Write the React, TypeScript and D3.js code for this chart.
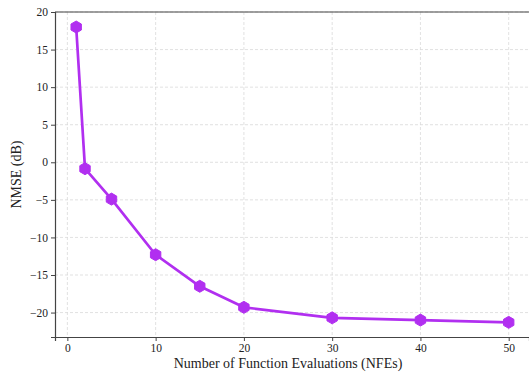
import { useEffect, useRef } from 'react';
import * as d3 from 'd3';

const nfes = [1, 2, 5, 10, 15, 20, 30, 40, 50];
const nmse = [18.0, -0.85, -4.9, -12.3, -16.5, -19.3, -20.7, -21.0, -21.3];
const xTicks = [0, 10, 20, 30, 40, 50];
const yTicks = [-20, -15, -10, -5, 0, 5, 10, 15, 20];

const COLOR = '#b12ff0';
const FONT = "'Times New Roman', 'Liberation Serif', Times, serif";

export default function App() {
    const svgRef = useRef<SVGSVGElement>(null);

    useEffect(() => {
        if (!svgRef.current) return;
        const width = 529;
        const height = 372;
        const svg = d3.select(svgRef.current);
        svg.selectAll('*').remove();

        const left = 55, right = 529, top = 12, bottom = 337;

        const x = d3.scaleLinear().domain([-1.4, 52.3]).range([left, right]);
        const y = d3.scaleLinear().domain([-23.25, 20]).range([bottom, top]);

        svg.attr('width', width).attr('height', height).style('font-family', FONT);

        // Grid
        const grid = svg.append('g');
        grid.selectAll('.gx')
            .data(xTicks)
            .enter()
            .append('line')
            .attr('x1', (d) => x(d))
            .attr('x2', (d) => x(d))
            .attr('y1', top)
            .attr('y2', bottom)
            .attr('stroke', '#d9d9d9')
            .attr('stroke-width', 0.8)
            .attr('stroke-dasharray', '3,2');
        grid.selectAll('.gy')
            .data(yTicks)
            .enter()
            .append('line')
            .attr('x1', left)
            .attr('x2', right)
            .attr('y1', (d) => y(d))
            .attr('y2', (d) => y(d))
            .attr('stroke', '#d9d9d9')
            .attr('stroke-width', 0.8)
            .attr('stroke-dasharray', '3,2');

        // Axes
        const xAxis = svg
            .append('g')
            .attr('transform', `translate(0, ${bottom})`)
            .call(d3.axisBottom(x).tickValues(xTicks).tickSize(4).tickPadding(3).tickFormat((d) => `${d}`));
        const yAxis = svg
            .append('g')
            .attr('transform', `translate(${left}, 0)`)
            .call(
                d3.axisLeft(y).tickValues(yTicks).tickSize(4).tickPadding(3)
                    .tickFormat((d) => (+d < 0 ? `\u2212${Math.abs(+d)}` : `${d}`))
            );
        [xAxis, yAxis].forEach((a) => {
            a.attr('font-family', null).attr('font-size', null);
            a.select('.domain').attr('stroke', '#444').attr('stroke-width', 1.2);
            a.selectAll('line').attr('stroke', '#444').attr('stroke-width', 1);
            a.selectAll('text')
                .attr('fill', '#222')
                .style('font-family', FONT)
                .style('font-size', '11.5px');
        });

        // Top spine
        svg.append('line')
            .attr('x1', left)
            .attr('x2', right)
            .attr('y1', top)
            .attr('y2', top)
            .attr('stroke', '#444')
            .attr('stroke-width', 1.2);

        // Line
        const data = nfes.map((n, i) => ({ n, v: nmse[i] }));
        const line = d3
            .line<{ n: number; v: number }>()
            .x((d) => x(d.n))
            .y((d) => y(d.v));
        svg.append('path')
            .datum(data)
            .attr('d', line)
            .attr('fill', 'none')
            .attr('stroke', COLOR)
            .attr('stroke-width', 2.7)
            .attr('stroke-linejoin', 'round');

        // Hexagon markers
        const r = 6;
        const hex = d3.range(6).map((k) => {
            const a = (Math.PI / 3) * k - Math.PI / 2;
            return [r * Math.cos(a), r * Math.sin(a)];
        });
        svg.selectAll('.marker')
            .data(data)
            .enter()
            .append('polygon')
            .attr('points', hex.map((p) => p.join(',')).join(' '))
            .attr('transform', (d) => `translate(${x(d.n)}, ${y(d.v)})`)
            .attr('fill', COLOR)
            .attr('stroke', COLOR)
            .attr('stroke-width', 1);

        // Labels
        svg.append('text')
            .attr('x', 288)
            .attr('y', 368)
            .attr('text-anchor', 'middle')
            .attr('fill', '#222')
            .style('font-family', FONT)
            .style('font-size', '14px')
            .text('Number of Function Evaluations (NFEs)');
        svg.append('text')
            .attr('transform', `translate(21, ${(top + bottom) / 2}) rotate(-90)`)
            .attr('text-anchor', 'middle')
            .attr('fill', '#222')
            .style('font-family', FONT)
            .style('font-size', '14px')
            .text('NMSE (dB)');
    }, []);

    return (
        <div style={{ position: 'absolute', left: 0, top: 0 }}>
            <svg ref={svgRef}></svg>
        </div>
    );
}
